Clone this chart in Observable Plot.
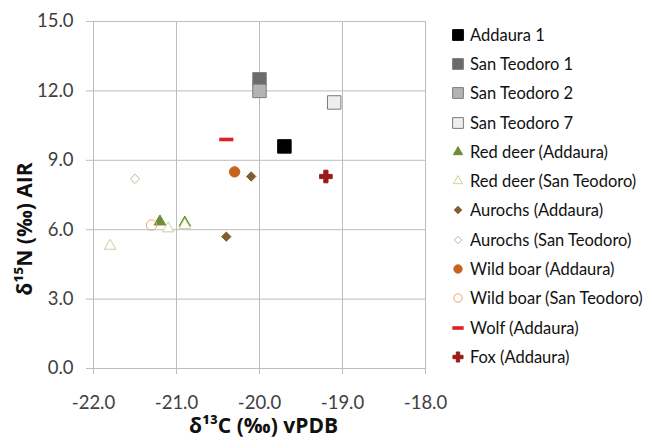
<!DOCTYPE html>
<html><head><meta charset="utf-8">
<script src="https://cdn.jsdelivr.net/npm/d3@7"></script>
<script src="https://cdn.jsdelivr.net/npm/@observablehq/plot@0.6"></script>
<style>
body{margin:0;background:#fff;}
#wrap{position:relative;width:652px;height:448px;font-family:Lato,"Open Sans",sans-serif;}
#chart{position:absolute;left:0;top:0;}
#legend{position:absolute;left:451px;top:20px;}
.item{display:flex;align-items:center;height:29.3px;font-size:16.5px;color:#111;}
.item svg{margin-right:5px;}
</style></head><body>
<div id="wrap"><div id="chart"></div><div id="legend"></div></div>
<script>
// Series (legend order)
const seriesNames = ["Addaura 1","San Teodoro 1","San Teodoro 2","San Teodoro 7","Red deer (Addaura)","Red deer (San Teodoro)","Aurochs (Addaura)","Aurochs (San Teodoro)","Wild boar (Addaura)","Wild boar (San Teodoro)","Wolf (Addaura)","Fox (Addaura)"];
// Points
const pointSeries = ["Addaura 1","San Teodoro 1","San Teodoro 2","San Teodoro 7","Red deer (Addaura)","Red deer (Addaura)","Red deer (San Teodoro)","Red deer (San Teodoro)","Red deer (San Teodoro)","Aurochs (Addaura)","Aurochs (Addaura)","Aurochs (San Teodoro)","Wild boar (Addaura)","Wild boar (San Teodoro)","Wolf (Addaura)","Fox (Addaura)"];
const d13C = [-19.7,-20.0,-20.0,-19.1,-21.2,-20.9,-21.1,-20.9,-21.8,-20.1,-20.4,-21.5,-20.3,-21.3,-20.4,-19.2];
const d15N = [9.6,12.5,12.0,11.5,6.35,6.3,6.05,6.2,5.3,8.3,5.7,8.2,8.5,6.2,9.9,8.3];
const xTicks = [-22,-21,-20,-19,-18];
const yTicks = [0,3,6,9,12,15];
const xLabel = "δ¹³C (‰) vPDB";
const yLabel = "δ¹⁵N (‰) AIR";

const dash = {draw(ctx, size){ const w = Math.sqrt(size)*1.45; ctx.rect(-w/2,-1.8,w,3.6); }};
const styles = {
  "Addaura 1":{symbol:"square",fill:"#000",stroke:"#000",r:7.6},
  "San Teodoro 1":{symbol:"square",fill:"#6b6b6b",stroke:"#7a7a7a",r:7.6},
  "San Teodoro 2":{symbol:"square",fill:"#b3b3b3",stroke:"#7a7a7a",r:7.6},
  "San Teodoro 7":{symbol:"square",fill:"#eeeeee",stroke:"#7a7a7a",r:7.6},
  "Red deer (Addaura)":{symbol:"triangle",fill:"#6f8c35",stroke:"#6f8c35",r:4.3},
  "Red deer (San Teodoro)":{symbol:"triangle",fill:"#fff",stroke:"#c3d69b",r:4.3},
  "Aurochs (Addaura)":{symbol:"diamond2",fill:"#7f5f2e",stroke:"#7f5f2e",r:4.2},
  "Aurochs (San Teodoro)":{symbol:"diamond2",fill:"#fff",stroke:"#c4b29b",r:4.2},
  "Wild boar (Addaura)":{symbol:"circle",fill:"#c8631c",stroke:"#c8631c",r:5.2},
  "Wild boar (San Teodoro)":{symbol:"circle",fill:"none",stroke:"#e6a672",r:5.2},
  "Wolf (Addaura)":{symbol:dash,fill:"#e0201f",stroke:"none",r:5.5},
  "Fox (Addaura)":{symbol:"cross",fill:"#9b1b1b",stroke:"#9b1b1b",r:5.3}
};

const data = pointSeries.map((s,i)=>({series:s,x:d13C[i],y:d15N[i]}));

const dotMarks = seriesNames.map(name=>{
  const st = styles[name];
  return Plot.dot(data.filter(d=>d.series===name),{x:"x",y:"y",symbol:()=>st.symbol,r:st.r,fill:st.fill,stroke:st.stroke,strokeWidth:1});
});

const chart = Plot.plot({
  width:460,height:448,
  marginLeft:93,marginRight:35,marginTop:21,marginBottom:80,
  style:{fontFamily:"Lato, 'Open Sans', sans-serif",background:"transparent"},
  symbol:{type:"identity"},
  x:{domain:[-22,-18]},
  y:{domain:[0,15]},
  marks:[
    Plot.gridX(xTicks,{stroke:"#bdbdbd",strokeOpacity:1}),
    Plot.gridY(yTicks,{stroke:"#bdbdbd",strokeOpacity:1}),
    Plot.axisX(xTicks,{tickSize:6,tickPadding:21,fontSize:18.5,stroke:"#bdbdbd",color:"#404040",tickFormat:d=>d.toFixed(1),label:null}),
    Plot.axisY(yTicks,{tickSize:7,tickPadding:13,fontSize:18.5,stroke:"#bdbdbd",color:"#404040",tickFormat:d=>d.toFixed(1),label:null}),
    ...dotMarks,
    Plot.text([xLabel],{frameAnchor:"bottom",dy:64,dx:4,fontSize:21,fontWeight:"bold",fontFamily:"'Open Sans', sans-serif",fill:"#111"}),
    Plot.text([yLabel],{frameAnchor:"left",textAnchor:"middle",rotate:-90,dx:-68,dy:34,fontSize:21,fontWeight:"bold",fontFamily:"'Open Sans', sans-serif",fill:"#111"})
  ]
});
document.getElementById("chart").appendChild(chart);

// Legend
const legend = document.getElementById("legend");
seriesNames.forEach(name=>{
  const st = styles[name];
  const div = document.createElement("div"); div.className="item";
  const sym = typeof st.symbol === "string" ? {square:d3.symbolSquare,triangle:d3.symbolTriangle,diamond2:d3.symbolDiamond2,circle:d3.symbolCircle,cross:d3.symbolCross}[st.symbol] : st.symbol;
  const rr = st.r*0.8;
  const path = d3.symbol(sym, Math.PI*rr*rr)();
  const svg = d3.create("svg").attr("width",14).attr("height",14).attr("viewBox","-7 -7 14 14");
  svg.append("path").attr("d",path).attr("fill",st.fill).attr("stroke",st.stroke);
  div.appendChild(svg.node());
  const span = document.createElement("span"); span.textContent = name;
  div.appendChild(span);
  legend.appendChild(div);
});
</script>
</body></html>
